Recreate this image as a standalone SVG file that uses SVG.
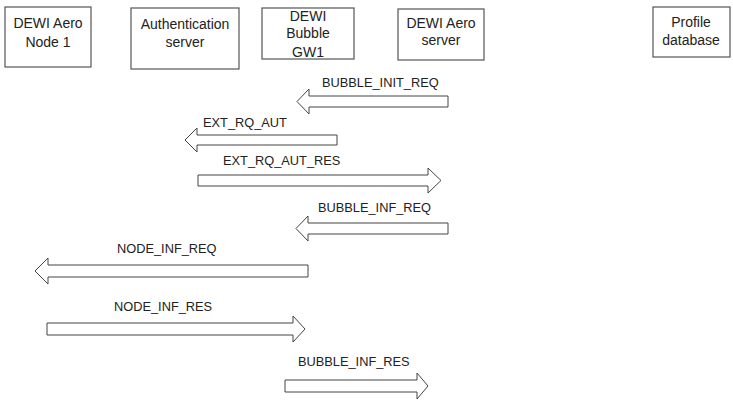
<svg xmlns="http://www.w3.org/2000/svg" width="733" height="400" viewBox="0 0 733 400">
<style>
.box{fill:#fff;stroke:#555;stroke-width:1.2}
.nt{font-family:"Liberation Sans",Arial,sans-serif;font-size:14px;fill:#222;text-anchor:middle}
.arr{fill:#fff;stroke:#444;stroke-width:1}
.lb{font-family:"Liberation Sans",Arial,sans-serif;font-size:12.8px;fill:#222}
</style>
<rect width="733" height="400" fill="#fff"/>
<g id="node1"><rect class="box" x="5" y="7" width="86" height="60"/><text class="nt" x="48" y="28">DEWI Aero</text><text class="nt" x="48" y="47">Node 1</text></g>
<g id="auth"><rect class="box" x="131" y="8" width="108" height="61"/><text class="nt" x="185" y="29">Authentication</text><text class="nt" x="185" y="47">server</text></g>
<g id="gw1"><rect class="box" x="262" y="8" width="92" height="51"/><text class="nt" x="308" y="21">DEWI</text><text class="nt" x="308" y="38">Bubble</text><text class="nt" x="308" y="57">GW1</text></g>
<g id="aeroserver"><rect class="box" x="398" y="9" width="86" height="51"/><text class="nt" x="441" y="28">DEWI Aero</text><text class="nt" x="441" y="45">server</text></g>
<g id="profile"><rect class="box" x="653" y="7" width="77" height="50"/><text class="nt" x="691" y="27">Profile</text><text class="nt" x="691" y="45">database</text></g>
<g id="connectors">
<polygon class="arr" points="448,96 309,96 309,89 297,101.5 309,114 309,107 448,107"/>
<text class="lb" x="322" y="87">BUBBLE_INIT_REQ</text>
<polygon class="arr" points="337,135 197,135 197,128 185,140 197,152 197,145 337,145"/>
<text class="lb" x="203" y="127">EXT_RQ_AUT</text>
<polygon class="arr" points="198,175 428,175 428,168 441,180.5 428,193 428,186 198,186"/>
<text class="lb" x="223" y="165">EXT_RQ_AUT_RES</text>
<polygon class="arr" points="448,223 308,223 308,216 296,228.5 308,241 308,234 448,234"/>
<text class="lb" x="318" y="212">BUBBLE_INF_REQ</text>
<polygon class="arr" points="308,265 48,265 48,258 35,271 48,284 48,277 308,277"/>
<text class="lb" x="117" y="253">NODE_INF_REQ</text>
<polygon class="arr" points="47,323 293,323 293,316 305,329 293,342 293,335 47,335"/>
<text class="lb" x="114" y="311">NODE_INF_RES</text>
<polygon class="arr" points="285,380 417,380 417,373 428,386 417,399 417,392 285,392"/>
<text class="lb" x="298" y="366">BUBBLE_INF_RES</text>
</g>
</svg>
